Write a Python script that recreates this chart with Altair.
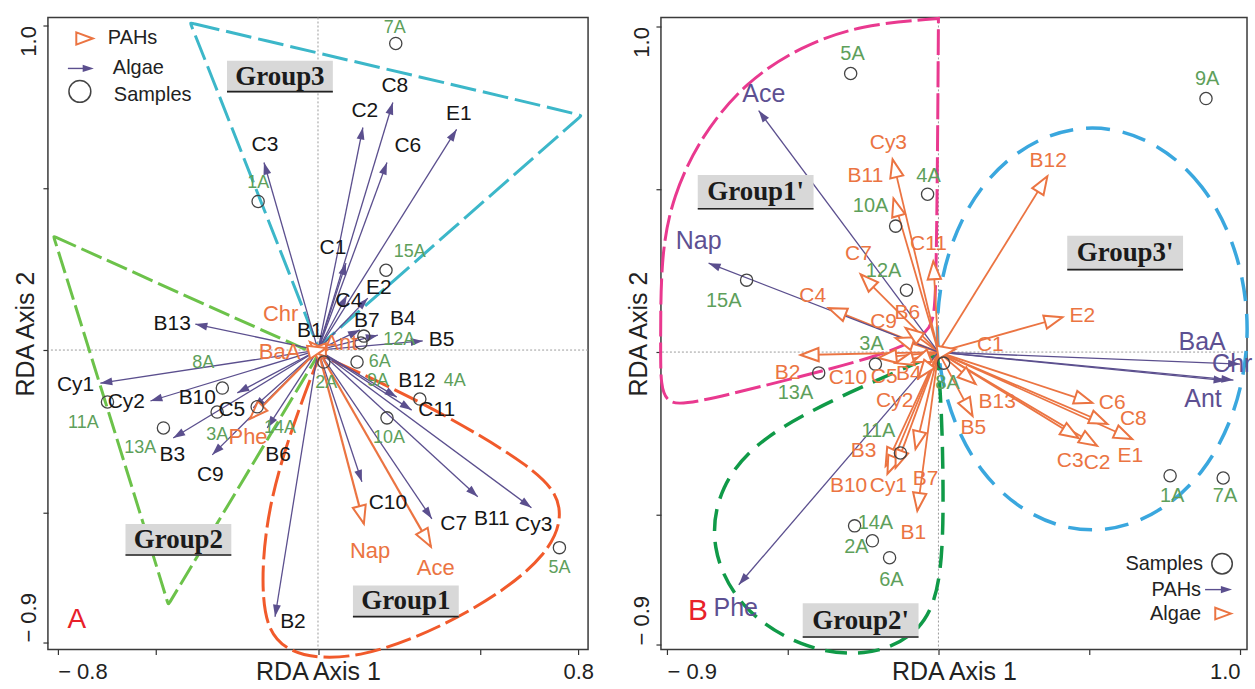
import math
import altair as alt
import pandas as pd

SANS = "Liberation Sans"
SERIF = "Liberation Serif"
PURPLE = "#5B4F8E"
ORANGE = "#EB7442"
GREEN_TXT = "#5E9F5B"
CIRCLE = "#444444"

# ---------------- Panel A data ----------------
a_alg_names = ["C3", "C2", "C8", "C6", "E1", "C1", "C4", "E2", "B7", "B4", "B5", "B12", "C11",
               "C10", "C7", "B11", "Cy3", "B2", "B6", "C9", "B3", "C5", "B10", "Cy2", "Cy1", "B13", "B1"]
a_alg_x = [-0.166, 0.138, 0.230, 0.212, 0.426, 0.086, 0.089, 0.153, 0.129, 0.184, 0.322, 0.242, 0.288,
           0.135, 0.350, 0.491, 0.656, -0.132, -0.156, -0.325, -0.445, -0.199, -0.248, -0.515, -0.669, -0.377, -0.025]
a_alg_y = [0.578, 0.686, 0.763, 0.578, 0.680, 0.268, 0.169, 0.160, 0.062, 0.046, 0.028, -0.145, -0.185,
           -0.406, -0.520, -0.452, -0.486, -0.822, -0.240, -0.323, -0.271, -0.178, -0.132, -0.157, -0.102, 0.080, 0.022]
a_alg_lx = [-0.163, 0.144, 0.236, 0.276, 0.433, 0.046, 0.095, 0.187, 0.150, 0.261, 0.380, 0.304, 0.365,
            0.215, 0.417, 0.534, 0.663, -0.077, -0.123, -0.331, -0.448, -0.265, -0.371, -0.589, -0.745, -0.448, -0.025]
a_alg_ly = [0.631, 0.738, 0.815, 0.628, 0.729, 0.314, 0.152, 0.191, 0.090, 0.095, 0.031, -0.095, -0.185,
            -0.471, -0.535, -0.520, -0.538, -0.837, -0.323, -0.385, -0.323, -0.185, -0.148, -0.160, -0.108, 0.080, 0.060]

a_pah_names = ["Nap", "Ace", "Phe", "Chr", "BaA", "Ant"]
a_pah_x = [0.141, 0.347, -0.209, -0.025, -0.031, 0.025]
a_pah_y = [-0.535, -0.606, -0.212, 0.025, 0.000, 0.006]
a_pah_lx = [0.160, 0.362, -0.215, -0.115, -0.118, 0.070]
a_pah_ly = [-0.618, -0.671, -0.268, 0.110, -0.005, 0.022]

a_smp_names = ["1A", "2A", "3A", "4A", "5A", "6A", "7A", "8A", "9A", "10A", "11A", "12A", "13A", "14A", "15A"]
a_smp_x = [-0.184, 0.018, -0.310, 0.313, 0.742, 0.120, 0.239, -0.294, 0.132, 0.212, -0.647, 0.141, -0.475, -0.187, 0.209]
a_smp_y = [0.458, -0.037, -0.191, -0.151, -0.609, -0.037, 0.945, -0.117, 0.022, -0.209, -0.160, 0.043, -0.240, -0.175, 0.246]
a_smp_lx = [-0.184, 0.025, -0.310, 0.420, 0.742, 0.190, 0.236, -0.353, 0.184, 0.218, -0.721, 0.250, -0.546, -0.117, 0.282]
a_smp_ly = [0.514, -0.102, -0.262, -0.095, -0.671, -0.037, 0.994, -0.040, -0.095, -0.271, -0.225, 0.030, -0.302, -0.240, 0.302]

a_grp_names = ["Group3", "Group2", "Group1"]
a_grp_x = [-0.117, -0.429, 0.270]
a_grp_y = [0.843, -0.585, -0.775]

a_g3_x = [-0.393, -0.393, -0.319, 0.736, 0.810, 0.810, 0.761, 0.098, 0.0, 0.0, -0.046, -0.368]
a_g3_y = [1.009, 1.009, 0.991, 0.742, 0.723, 0.723, 0.680, 0.095, 0.009, 0.009, 0.129, 0.948]
a_g2_x = [-0.813, -0.813, -0.764, -0.098, 0.0, 0.0, -0.055, -0.423, -0.460, -0.460, -0.488, -0.791]
a_g2_y = [0.351, 0.351, 0.329, 0.028, -0.015, -0.015, -0.108, -0.723, -0.785, -0.785, -0.692, 0.283]
a_g1_x = [0.006, 0.006, 0.313, 0.681, 0.760, 0.720, 0.497, 0.129, -0.125, -0.180, -0.158, -0.055]
a_g1_y = [-0.015, -0.015, -0.154, -0.369, -0.480, -0.625, -0.800, -0.965, -0.940, -0.785, -0.477, -0.169]

# ---------------- Panel B data ----------------
b_pah_names = ["Ace", "Nap", "Phe", "BaA", "Chr", "Ant"]
b_pah_x = [-0.596, -0.762, -0.662, 1.000, 0.978, 0.952]
b_pah_y = [0.742, 0.273, -0.715, -0.037, -0.086, -0.088]
b_pah_lx = [-0.579, -0.795, -0.672, 0.874, 0.974, 0.877]
b_pah_ly = [0.794, 0.340, -0.788, 0.031, -0.037, -0.144]

b_alg_names = ["Cy3", "B11", "C11", "C7", "C4", "C9", "B6", "B2", "C10", "C5", "B4", "Cy2", "B3", "B10",
               "Cy1", "B7", "B1", "B12", "E2", "C1", "B13", "B5", "C6", "C8", "E1", "C3", "C2"]
b_alg_x = [-0.152, -0.149, -0.017, -0.258, -0.364, -0.142, -0.109, -0.457, -0.199, -0.142, -0.086, -0.066, -0.175, -0.169,
           -0.142, -0.076, -0.070, 0.361, 0.411, 0.056, 0.123, 0.113, 0.510, 0.560, 0.642, 0.464, 0.526]
b_alg_y = [0.592, 0.472, 0.279, 0.239, 0.135, 0.043, 0.074, -0.009, -0.018, -0.034, -0.031, -0.080, -0.350, -0.374,
           -0.356, -0.298, -0.488, 0.540, 0.107, 0.009, -0.098, -0.196, -0.156, -0.221, -0.267, -0.264, -0.288]
b_alg_lx = [-0.166, -0.242, -0.033, -0.265, -0.417, -0.182, -0.103, -0.500, -0.300, -0.180, -0.098, -0.145, -0.248, -0.298,
            -0.166, -0.043, -0.083, 0.364, 0.477, 0.172, 0.195, 0.116, 0.576, 0.646, 0.636, 0.437, 0.526]
b_alg_ly = [0.641, 0.540, 0.331, 0.301, 0.172, 0.092, 0.120, -0.064, -0.080, -0.078, -0.067, -0.150, -0.304, -0.411,
            -0.411, -0.390, -0.555, 0.586, 0.110, 0.021, -0.153, -0.233, -0.156, -0.206, -0.319, -0.334, -0.340]

b_smp_names = ["1A", "2A", "3A", "4A", "5A", "6A", "7A", "8A", "9A", "10A", "11A", "12A", "13A", "14A", "15A"]
b_smp_x = [0.768, -0.219, -0.209, -0.036, -0.291, -0.162, 0.944, 0.017, 0.887, -0.142, -0.126, -0.106, -0.397, -0.278, -0.636]
b_smp_y = [-0.380, -0.580, -0.037, 0.485, 0.856, -0.632, -0.387, -0.034, 0.779, 0.387, -0.310, 0.190, -0.064, -0.534, 0.221]
b_smp_lx = [0.775, -0.272, -0.222, -0.033, -0.285, -0.156, 0.950, 0.030, 0.891, -0.225, -0.199, -0.182, -0.474, -0.209, -0.712]
b_smp_ly = [-0.442, -0.598, 0.024, 0.540, 0.917, -0.699, -0.442, -0.095, 0.840, 0.448, -0.242, 0.248, -0.126, -0.525, 0.156]

b_grp_names = ["Group1'", "Group3'", "Group2'"]
b_grp_x = [-0.606, 0.619, -0.258]
b_grp_y = [0.491, 0.304, -0.825]

b_g1_x = [-0.921, -0.881, -0.788, -0.639, -0.457, -0.258, 0.0, 0.0, 0.0, -0.003, -0.008, -0.015, -0.043,
          -0.192, -0.490, -0.821, -0.900, -0.921, -0.921]
b_g1_y = [0.294, 0.479, 0.663, 0.831, 0.939, 1.006, 1.025, 1.025, 1.025, 0.601, 0.200, 0.100, 0.049,
          -0.012, -0.083, -0.160, -0.160, -0.100, 0.000]
b_g3_x = [1.079, 0.912, 0.510, 0.108, -0.059, 0.108, 0.510, 0.912]
b_g3_y = [0.071, 0.555, 0.755, 0.555, 0.071, -0.413, -0.613, -0.413]
b_g2_x = [-0.003, -0.003, -0.291, -0.589, -0.728, -0.760, -0.660, -0.457, -0.242, -0.060, 0.013, 0.017, 0.010]
b_g2_y = [-0.006, -0.006, -0.120, -0.258, -0.411, -0.600, -0.790, -0.910, -0.940, -0.870, -0.718, -0.411, -0.166]

# ---------------- geometry ----------------
A_W, A_H, A_XD, A_YD = 541, 633, [-0.83, 0.83], [-0.923, 1.025]
B_W, B_H, B_XD, B_YD = 587, 633, [-0.92, 1.023], [-0.914, 1.028]

TRI_FILLED = "M0,0 L-0.33,1 L0.33,1 Z"
TRI_OPEN = "M0,0 L-0.37,1 L0.37,1 Z"


def vec_df(names, xs, ys, lxs, lys, W, H, xd, yd):
    kx = W / (xd[1] - xd[0])
    ky = H / (yd[1] - yd[0])
    rows = []
    for n, x, y, lx, ly in zip(names, xs, ys, lxs, lys):
        ang = math.degrees(math.atan2(x * kx, y * ky)) % 360
        rows.append(dict(name=n, x=x, y=y, x0=0.0, y0=0.0, lx=lx, ly=ly, ang=ang))
    return pd.DataFrame(rows)


def pts_df(names, xs, ys, lxs, lys):
    return pd.DataFrame(dict(name=names, x=xs, y=ys, lx=lxs, ly=lys))


def poly_df(xs, ys):
    return pd.DataFrame(dict(i=list(range(len(xs))), x=xs, y=ys))


def build_panel(P):
    xs = alt.Scale(domain=P["xd"], nice=False, zero=False)
    ys = alt.Scale(domain=P["yd"], nice=False, zero=False)
    xt = P["xticks"]
    yt = P["yticks"]
    x_axis = alt.Axis(
        values=xt, title="RDA Axis 1",
        labelExpr=f"datum.value == {xt[0]} ? '{P['xl0']}' : (datum.value == {xt[-1]} ? '{P['xl1']}' : '')",
        grid=False, domain=False, ticks=True, tickSize=5, tickColor="#333", tickWidth=1.2,
        labelFont=SANS, labelFontSize=22, labelColor="#222", labelPadding=17, labelBaseline="middle",
        labelAlign={"condition": {"test": "datum.value < 0", "value": "left"}, "value": P["xr_align"]},
        labelFlush=False, labelOverlap=False,
        titleFont=SANS, titleFontSize=25, titleFontWeight="normal", titleColor="#222",
        titleY=22, titleBaseline="middle")
    y_axis = alt.Axis(
        values=yt, title="RDA Axis 2",
        labelExpr=f"datum.value == {yt[0]} ? '{P['yl0']}' : (datum.value == {yt[-1]} ? '{P['yl1']}' : '')",
        grid=False, domain=False, ticks=True, tickSize=5, tickColor="#333", tickWidth=1.2,
        labelFont=SANS, labelFontSize=22, labelColor="#222", labelPadding=14, labelBaseline="middle",
        labelAngle=270,
        labelAlign={"condition": {"test": "datum.value > 0", "value": "right"}, "value": "left"},
        labelFlush=False, labelOverlap=False,
        titleFont=SANS, titleFontSize=25, titleFontWeight="normal", titleColor="#222",
        titleAngle=270, titleX=-22, titleBaseline="middle")

    def X(f):
        return alt.X(f"{f}:Q", scale=xs, axis=x_axis)

    def Y(f):
        return alt.Y(f"{f}:Q", scale=ys, axis=y_axis)

    zdf = pd.DataFrame({"v": [0.0]})
    layers = [
        alt.Chart(zdf).mark_rule(color="#9c9c9c", strokeDash=[2, 2], strokeWidth=1).encode(x=X("v")),
        alt.Chart(zdf).mark_rule(color="#9c9c9c", strokeDash=[2, 2], strokeWidth=1).encode(y=Y("v")),
    ]

    for (gx, gy, col, dash, w) in P["outlines"]:
        layers.append(
            alt.Chart(poly_df(gx, gy)).mark_line(
                interpolate="basis-closed", color=col, strokeWidth=w, strokeDash=dash
            ).encode(x=X("x"), y=Y("y"), order="i:Q"))

    for (df, kind) in P["vectors"]:
        if kind == "filled":
            layers.append(alt.Chart(df).mark_rule(color=PURPLE, strokeWidth=1.3).encode(
                x=X("x0"), y=Y("y0"), x2="x", y2="y"))
        else:
            layers.append(alt.Chart(df).mark_rule(color=ORANGE, strokeWidth=P["orange_w"]).encode(
                x=X("x0"), y=Y("y0"), x2="x", y2="y"))
    for (df, kind) in P["vectors"]:
        if kind == "filled":
            layers.append(alt.Chart(df).mark_point(
                shape=TRI_FILLED, filled=True, color=PURPLE, size=576, opacity=1, strokeWidth=0
            ).encode(x=X("x"), y=Y("y"), angle=alt.Angle("ang:Q", scale=None)))
        else:
            layers.append(alt.Chart(df).mark_point(
                shape=TRI_OPEN, filled=True, fill="white", stroke=ORANGE, strokeWidth=2,
                size=1296, opacity=1
            ).encode(x=X("x"), y=Y("y"), angle=alt.Angle("ang:Q", scale=None)))

    sdf = P["samples"]
    layers.append(alt.Chart(sdf).mark_point(
        shape="circle", filled=False, color=CIRCLE, strokeWidth=1.3, size=150, opacity=1
    ).encode(x=X("x"), y=Y("y")))

    for (df, col, fs) in P["labels"]:
        layers.append(alt.Chart(df).mark_text(
            font=SANS, fontSize=fs, color=col, align="center", baseline="middle"
        ).encode(x=X("lx"), y=Y("ly"), text="name:N"))

    gdf = P["groups"]
    bw = P["box_w"]
    layers.append(alt.Chart(gdf).mark_point(
        shape="M-1,-0.3 L1,-0.3 L1,0.3 L-1,0.3 Z", filled=True, color="#d8d8d8",
        size=bw * bw, opacity=1, strokeWidth=0
    ).encode(x=X("x"), y=Y("y")))
    layers.append(alt.Chart(gdf).mark_point(
        shape="M-1,0.285 L1,0.285", filled=False, color="#222", strokeWidth=1.6,
        size=bw * bw, opacity=1
    ).encode(x=X("x"), y=Y("y")))
    layers.append(alt.Chart(gdf).mark_text(
        font=SERIF, fontWeight="bold", fontSize=27, color="#1b1b1b", align="center", baseline="middle"
    ).encode(x=X("x"), y=Y("y"), text="name:N"))

    layers.extend(P["extra"])
    return alt.layer(*layers).properties(width=P["W"], height=P["H"])


one = pd.DataFrame({"a": [0]})


def vtext(txt, x, y, size=20, color="#222", align="left"):
    return alt.Chart(one).mark_text(font=SANS, fontSize=size, color=color, align=align,
                                    baseline="middle").encode(
        x=alt.value(x), y=alt.value(y), text=alt.value(txt))


legend_a = [
    alt.Chart(one).mark_point(shape=TRI_OPEN, filled=True, fill="white", stroke=ORANGE,
                              strokeWidth=2, size=1100, opacity=1).encode(
        x=alt.value(45), y=alt.value(21), angle=alt.value(90)),
    vtext("PAHs", 60, 21),
    alt.Chart(one).mark_rule(color=PURPLE, strokeWidth=1.4).encode(
        x=alt.value(20), x2=alt.value(40), y=alt.value(51)),
    alt.Chart(one).mark_point(shape=TRI_FILLED, filled=True, color=PURPLE, size=500,
                              opacity=1, strokeWidth=0).encode(
        x=alt.value(46), y=alt.value(51), angle=alt.value(90)),
    vtext("Algae", 65, 51),
    alt.Chart(one).mark_point(shape="circle", filled=False, color=CIRCLE, strokeWidth=1.5,
                              size=480, opacity=1).encode(x=alt.value(32), y=alt.value(74)),
    vtext("Samples", 66, 78),
    vtext("A", 29, 603, size=28, color="#E8212A", align="center"),
]

legend_b = [
    vtext("Samples", 543, 547, align="right"),
    alt.Chart(one).mark_point(shape="circle", filled=False, color=CIRCLE, strokeWidth=1.5,
                              size=420, opacity=1).encode(x=alt.value(562), y=alt.value(547)),
    vtext("PAHs", 541, 573, align="right"),
    alt.Chart(one).mark_rule(color=PURPLE, strokeWidth=1.4).encode(
        x=alt.value(545), x2=alt.value(566), y=alt.value(573)),
    alt.Chart(one).mark_point(shape=TRI_FILLED, filled=True, color=PURPLE, size=500,
                              opacity=1, strokeWidth=0).encode(
        x=alt.value(572), y=alt.value(573), angle=alt.value(90)),
    vtext("Algae", 541, 597, align="right"),
    alt.Chart(one).mark_point(shape=TRI_OPEN, filled=True, fill="white", stroke=ORANGE,
                              strokeWidth=2, size=1000, opacity=1).encode(
        x=alt.value(571), y=alt.value(597), angle=alt.value(90)),
    vtext("B", 37, 594, size=30, color="#E8212A", align="center"),
]

PA = dict(
    W=A_W, H=A_H, xd=A_XD, yd=A_YD,
    xticks=[-0.8, -0.5, 0, 0.5, 0.8], yticks=[-0.9, -0.5, 0, 0.5, 1.0],
    xl0="− 0.8", xl1="0.8", yl0="− 0.9", yl1="1.0", xr_align="center",
    outlines=[(a_g3_x, a_g3_y, "#3CB7C9", [26, 7], 3),
              (a_g2_x, a_g2_y, "#6CC24A", [22, 6], 3),
              (a_g1_x, a_g1_y, "#F15A2B", [26, 6], 3)],
    vectors=[(vec_df(a_alg_names, a_alg_x, a_alg_y, a_alg_lx, a_alg_ly, A_W, A_H, A_XD, A_YD), "filled"),
             (vec_df(a_pah_names, a_pah_x, a_pah_y, a_pah_lx, a_pah_ly, A_W, A_H, A_XD, A_YD), "open")],
    orange_w=2.2,
    samples=pts_df(a_smp_names, a_smp_x, a_smp_y, a_smp_lx, a_smp_ly),
    labels=[(pts_df(a_alg_names, a_alg_x, a_alg_y, a_alg_lx, a_alg_ly), "#161616", 21),
            (pts_df(a_pah_names, a_pah_x, a_pah_y, a_pah_lx, a_pah_ly), ORANGE, 22),
            (pts_df(a_smp_names, a_smp_x, a_smp_y, a_smp_lx, a_smp_ly), GREEN_TXT, 18)],
    groups=pd.DataFrame(dict(name=a_grp_names, x=a_grp_x, y=a_grp_y)),
    box_w=106,
    extra=legend_a,
)

PB = dict(
    W=B_W, H=B_H, xd=B_XD, yd=B_YD,
    xticks=[-0.9, -0.5, 0, 0.5, 1.0], yticks=[-0.9, -0.5, 0, 0.5, 1.0],
    xl0="− 0.9", xl1="1.0", yl0="− 0.9", yl1="1.0", xr_align="right",
    outlines=[(b_g1_x, b_g1_y, "#E9398F", [26, 6], 3),
              (b_g3_x, b_g3_y, "#3AA7DE", [24, 13], 3.5),
              (b_g2_x, b_g2_y, "#109A48", [22, 11], 3.5)],
    vectors=[(vec_df(b_alg_names, b_alg_x, b_alg_y, b_alg_lx, b_alg_ly, B_W, B_H, B_XD, B_YD), "open"),
             (vec_df(b_pah_names, b_pah_x, b_pah_y, b_pah_lx, b_pah_ly, B_W, B_H, B_XD, B_YD), "filled")],
    orange_w=1.8,
    samples=pts_df(b_smp_names, b_smp_x, b_smp_y, b_smp_lx, b_smp_ly),
    labels=[(pts_df(b_alg_names, b_alg_x, b_alg_y, b_alg_lx, b_alg_ly), ORANGE, 21),
            (pts_df(b_pah_names, b_pah_x, b_pah_y, b_pah_lx, b_pah_ly), "#5D5092", 25),
            (pts_df(b_smp_names, b_smp_x, b_smp_y, b_smp_lx, b_smp_ly), GREEN_TXT, 20)],
    groups=pd.DataFrame(dict(name=b_grp_names, x=b_grp_x, y=b_grp_y)),
    box_w=116,
    extra=legend_b,
)

chart = alt.hconcat(build_panel(PA), build_panel(PB), spacing=31).properties(
    padding={"left": 13, "top": 11, "right": 0, "bottom": 0}
).configure_view(stroke="#3b3b3b", strokeWidth=1.5)

chart.save("out.html", embed_options={"renderer": "svg", "actions": False})
